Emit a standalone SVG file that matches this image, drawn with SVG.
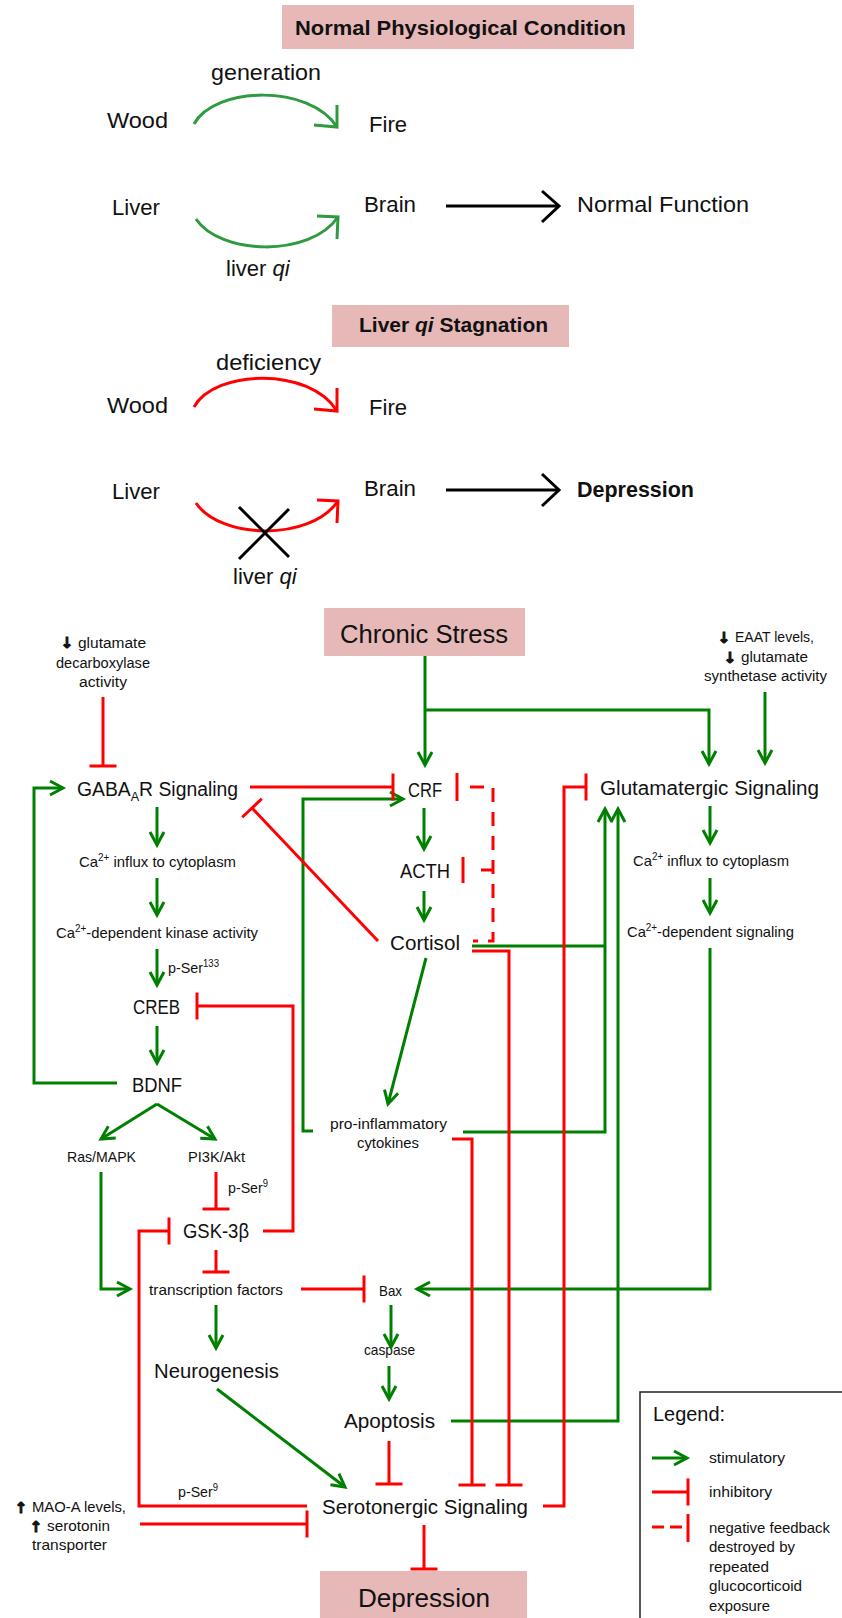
<svg xmlns="http://www.w3.org/2000/svg" width="842" height="1618" viewBox="0 0 842 1618">
<style>
text{font-family:"Liberation Sans",Arial,sans-serif;fill:#111;}
.t22{font-size:22px;}
.b20{font-size:21px;font-weight:bold;}
.big{font-size:20px;}
.sm{font-size:15px;}
.xs{font-size:14px;}
.huge{font-size:26px;}
.icon{font-family:"DejaVu Sans",sans-serif;font-weight:bold;font-size:15px;stroke:#111;stroke-width:1;}
.box{fill:#e6b8b7;}
.g{fill:none;stroke:#008000;stroke-width:3;}
.r{fill:none;stroke:#ff0000;stroke-width:3;}
.rd{fill:none;stroke:#ff0000;stroke-width:3;stroke-dasharray:14,10;}
.tg{fill:none;stroke:#2f9a3f;stroke-width:3;}
.k{fill:none;stroke:#000;stroke-width:3;}
.ga{marker-end:url(#arrG);}
.rt{marker-end:url(#teeR);}
</style>
<defs>
<marker id="arrG" markerUnits="userSpaceOnUse" viewBox="-16 -10 20 20" markerWidth="20" markerHeight="20" refX="0" refY="0" orient="auto" overflow="visible">
<path d="M-13,-7 L0,0 L-13,7" fill="none" stroke="#008000" stroke-width="3"/>
</marker>
<marker id="teeR" markerUnits="userSpaceOnUse" viewBox="-5 -15 10 30" markerWidth="10" markerHeight="30" refX="0" refY="0" orient="auto" overflow="visible">
<path d="M0,-13.5 V13.5" fill="none" stroke="#ff0000" stroke-width="3"/>
</marker>
</defs>

<!-- ===== Top: Normal Physiological Condition ===== -->
<g id="title-normal">
<rect class="box" x="282" y="5" width="352" height="44"/>
<text class="b20" x="295" y="35" textLength="331" lengthAdjust="spacingAndGlyphs">Normal Physiological Condition</text>
</g>
<g id="n-wood1"><text class="t22" x="107" y="128" textLength="61" lengthAdjust="spacingAndGlyphs">Wood</text></g>
<g id="n-fire1"><text class="t22" x="369" y="132" textLength="38" lengthAdjust="spacingAndGlyphs">Fire</text></g>
<g id="n-liver1"><text class="t22" x="112" y="215" textLength="48" lengthAdjust="spacingAndGlyphs">Liver</text></g>
<g id="n-brain1"><text class="t22" x="364" y="212" textLength="52" lengthAdjust="spacingAndGlyphs">Brain</text></g>
<g id="n-normalfunction"><text class="t22" x="577" y="212" textLength="172" lengthAdjust="spacingAndGlyphs">Normal Function</text></g>

<!-- ===== Top: Liver qi Stagnation ===== -->
<g id="title-stagnation">
<rect class="box" x="332" y="305" width="237" height="42"/>
<text class="b20" x="359" y="332">Liver <tspan font-style="italic">qi</tspan> Stagnation</text>
</g>
<g id="n-wood2"><text class="t22" x="107" y="413" textLength="61" lengthAdjust="spacingAndGlyphs">Wood</text></g>
<g id="n-fire2"><text class="t22" x="369" y="415" textLength="38" lengthAdjust="spacingAndGlyphs">Fire</text></g>
<g id="n-liver2"><text class="t22" x="112" y="499" textLength="48" lengthAdjust="spacingAndGlyphs">Liver</text></g>
<g id="n-brain2"><text class="t22" x="364" y="496" textLength="52" lengthAdjust="spacingAndGlyphs">Brain</text></g>
<g id="n-depression-top"><text class="t22" font-weight="bold" x="577" y="497" textLength="117" lengthAdjust="spacingAndGlyphs">Depression</text></g>

<!-- ===== Bottom nodes ===== -->
<g id="n-chronicstress">
<rect class="box" x="324" y="608" width="201" height="48"/>
<text class="huge" x="340" y="643" textLength="168" lengthAdjust="spacingAndGlyphs">Chronic Stress</text>
</g>
<g id="n-gad">
<text class="icon" x="67" y="648" text-anchor="middle">↓</text>
<text class="xs" x="78" y="648" textLength="68" lengthAdjust="spacingAndGlyphs">glutamate</text>
<text class="xs" x="56" y="668" textLength="94" lengthAdjust="spacingAndGlyphs">decarboxylase</text>
<text class="xs" x="79" y="687" textLength="48" lengthAdjust="spacingAndGlyphs">activity</text>
</g>
<g id="n-eaat">
<text class="icon" x="724" y="643" text-anchor="middle">↓</text>
<text class="xs" x="735" y="642" textLength="79" lengthAdjust="spacingAndGlyphs">EAAT levels,</text>
<text class="icon" x="730" y="663" text-anchor="middle">↓</text>
<text class="xs" x="741" y="662" textLength="67" lengthAdjust="spacingAndGlyphs">glutamate</text>
<text class="xs" x="704" y="681" textLength="123" lengthAdjust="spacingAndGlyphs">synthetase activity</text>
</g>
<g id="n-gabaar"><text class="big" x="77" y="796" textLength="161" lengthAdjust="spacingAndGlyphs">GABA<tspan font-size="13" dy="5">A</tspan><tspan dy="-5">R Signaling</tspan></text></g>
<g id="n-crf"><text class="big" x="408" y="797" textLength="34" lengthAdjust="spacingAndGlyphs">CRF</text></g>
<g id="n-glutamatergic"><text class="big" x="600" y="795" textLength="219" lengthAdjust="spacingAndGlyphs">Glutamatergic Signaling</text></g>
<g id="n-ca-influx-l"><text class="sm" x="79" y="867" textLength="157" lengthAdjust="spacingAndGlyphs">Ca<tspan font-size="10" dy="-6">2+</tspan><tspan dy="6"> influx to cytoplasm</tspan></text></g>
<g id="n-ca-influx-r"><text class="sm" x="633" y="866" textLength="156" lengthAdjust="spacingAndGlyphs">Ca<tspan font-size="10" dy="-6">2+</tspan><tspan dy="6"> influx to cytoplasm</tspan></text></g>
<g id="n-acth"><text class="big" x="400" y="878" textLength="50" lengthAdjust="spacingAndGlyphs">ACTH</text></g>
<g id="n-kinase"><text class="sm" x="56" y="938" textLength="202" lengthAdjust="spacingAndGlyphs">Ca<tspan font-size="10" dy="-6">2+</tspan><tspan dy="6">-dependent kinase activity</tspan></text></g>
<g id="n-cortisol"><text class="big" x="390" y="950" textLength="70" lengthAdjust="spacingAndGlyphs">Cortisol</text></g>
<g id="n-ca-signaling"><text class="sm" x="627" y="937" textLength="167" lengthAdjust="spacingAndGlyphs">Ca<tspan font-size="10" dy="-6">2+</tspan><tspan dy="6">-dependent signaling</tspan></text></g>
<g id="n-creb"><text class="big" x="133" y="1014" textLength="47" lengthAdjust="spacingAndGlyphs">CREB</text></g>
<g id="n-bdnf"><text class="big" x="132" y="1092" textLength="50" lengthAdjust="spacingAndGlyphs">BDNF</text></g>
<g id="n-cytokines">
<text class="sm" x="330" y="1129" textLength="117" lengthAdjust="spacingAndGlyphs">pro-inflammatory</text>
<text class="sm" x="357" y="1148" textLength="62" lengthAdjust="spacingAndGlyphs">cytokines</text>
</g>
<g id="n-ras"><text class="sm" x="67" y="1162" textLength="69" lengthAdjust="spacingAndGlyphs">Ras/MAPK</text></g>
<g id="n-pi3k"><text class="sm" x="188" y="1162" textLength="57" lengthAdjust="spacingAndGlyphs">PI3K/Akt</text></g>
<g id="n-gsk"><text class="big" x="183" y="1238" textLength="66" lengthAdjust="spacingAndGlyphs">GSK-3β</text></g>
<g id="n-tf"><text class="sm" x="149" y="1295" textLength="134" lengthAdjust="spacingAndGlyphs">transcription factors</text></g>
<g id="n-bax"><text class="sm" x="379" y="1296" textLength="23" lengthAdjust="spacingAndGlyphs">Bax</text></g>
<g id="n-caspase"><text class="sm" x="364" y="1355" textLength="51" lengthAdjust="spacingAndGlyphs">caspase</text></g>
<g id="n-neurogenesis"><text class="big" x="154" y="1378" textLength="125" lengthAdjust="spacingAndGlyphs">Neurogenesis</text></g>
<g id="n-apoptosis"><text class="big" x="344" y="1428" textLength="91" lengthAdjust="spacingAndGlyphs">Apoptosis</text></g>
<g id="n-serotonergic"><text class="big" x="322" y="1514" textLength="206" lengthAdjust="spacingAndGlyphs">Serotonergic Signaling</text></g>
<g id="n-maoa">
<text class="icon" x="21" y="1513" text-anchor="middle">↑</text>
<text class="sm" x="32" y="1512" textLength="94" lengthAdjust="spacingAndGlyphs">MAO-A levels,</text>
<text class="icon" x="36" y="1532" text-anchor="middle">↑</text>
<text class="sm" x="47" y="1531" textLength="63" lengthAdjust="spacingAndGlyphs">serotonin</text>
<text class="sm" x="32" y="1550" textLength="75" lengthAdjust="spacingAndGlyphs">transporter</text>
</g>
<g id="n-depression">
<rect class="box" x="320" y="1571" width="207" height="50"/>
<text class="huge" x="358" y="1607" textLength="132" lengthAdjust="spacingAndGlyphs">Depression</text>
</g>

<!-- ===== Legend ===== -->
<g id="legend">
<rect x="640" y="1392" width="215" height="240" fill="#fff" stroke="#222" stroke-width="1.5"/>
<text class="big" x="653" y="1421" textLength="72" lengthAdjust="spacingAndGlyphs">Legend:</text>
<path class="g ga" d="M652,1458 H687"/>
<text class="sm" x="709" y="1463" textLength="76" lengthAdjust="spacingAndGlyphs">stimulatory</text>
<path class="r rt" d="M652,1492 H688"/>
<text class="sm" x="709" y="1497" textLength="63" lengthAdjust="spacingAndGlyphs">inhibitory</text>
<path class="r" d="M652,1527 H688" stroke-dasharray="12,6"/>
<path class="r" d="M688,1514 V1542"/>
<text class="sm" x="709" y="1533" textLength="121" lengthAdjust="spacingAndGlyphs">negative feedback</text>
<text class="sm" x="709" y="1552" textLength="86" lengthAdjust="spacingAndGlyphs">destroyed by</text>
<text class="sm" x="709" y="1572" textLength="60" lengthAdjust="spacingAndGlyphs">repeated</text>
<text class="sm" x="709" y="1591" textLength="93" lengthAdjust="spacingAndGlyphs">glucocorticoid</text>
<text class="sm" x="709" y="1611" textLength="61" lengthAdjust="spacingAndGlyphs">exposure</text>
</g>

<!-- ===== Connectors ===== -->
<g id="connectors">
<!-- top section -->
<text class="t22" x="211" y="80" textLength="110" lengthAdjust="spacingAndGlyphs">generation</text>
<path class="tg" d="M194,124 C215,86 310,84 337,127"/>
<path class="tg" d="M337,105 L337,127 L314,125"/>
<path class="tg" d="M196,219 C220,255 310,258 338,217"/>
<path class="tg" d="M317,216 L338,217 L337,239"/>
<text class="t22" x="226" y="276">liver <tspan font-style="italic">qi</tspan></text>
<path class="k" d="M446,206 H559"/>
<path class="k" d="M542,191 L559,206 L542,222"/>

<text class="t22" x="216" y="370" textLength="105" lengthAdjust="spacingAndGlyphs">deficiency</text>
<path class="r" d="M194,407 C215,369 310,367 337,411"/>
<path class="r" d="M337,388 L337,411 L314,409"/>
<path class="r" d="M196,503 C220,539 310,542 338,501"/>
<path class="r" d="M317,500 L338,501 L337,523"/>
<path class="k" d="M239,507 L289,557 M289,509 L239,559"/>
<text class="t22" x="233" y="584">liver <tspan font-style="italic">qi</tspan></text>
<path class="k" d="M446,490 H559"/>
<path class="k" d="M542,474 L559,490 L542,506"/>

<!-- bottom: green stimulatory -->
<path class="g ga" d="M425,656 V765"/>
<path class="g ga" d="M425,710 H709 V764"/>
<path class="g ga" d="M765,692 V763"/>
<path class="g ga" d="M313,1131 H303 V799 H403"/>
<path class="g ga" d="M157,807 V845"/>
<path class="g ga" d="M157,878 V915"/>
<path class="g ga" d="M157,949 V985"/>
<path class="g ga" d="M157,1026 V1063"/>
<path class="g ga" d="M117,1083 H34 V788 H63"/>
<path class="g ga" d="M157,1104 L101,1139"/>
<path class="g ga" d="M157,1104 L215,1139"/>
<path class="g ga" d="M101,1172 V1289 H130"/>
<path class="g ga" d="M710,948 V1289 H417"/>
<path class="g ga" d="M216,1305 V1348"/>
<path class="g ga" d="M391,1305 V1347"/>
<path class="g ga" d="M389,1366 V1399"/>
<path class="g ga" d="M217,1389 L345,1487"/>
<path class="g" d="M472,946 H605"/>
<path class="g ga" d="M463,1132 H605 V809"/>
<path class="g ga" d="M451,1421 H618 V809"/>
<path class="g ga" d="M426,958 L388,1104"/>
<path class="g ga" d="M710,806 V843"/>
<path class="g ga" d="M710,878 V913"/>
<path class="g ga" d="M424,808 V849"/>
<path class="g ga" d="M424,891 V920"/>

<!-- bottom: red inhibitory -->
<path class="r rt" d="M103,697 V766"/>
<path class="r rt" d="M250,787 H393"/>
<path class="r rt" d="M378,941 L252,808"/>
<path class="r rt" d="M216,1172 V1209"/>
<path class="r rt" d="M263,1231 H293 V1006 H197"/>
<path class="r rt" d="M216,1250 V1272"/>
<path class="r rt" d="M307,1506 H139 V1231 H169"/>
<path class="r rt" d="M140,1524 H307"/>
<path class="r rt" d="M301,1289 H364"/>
<path class="r rt" d="M389,1441 V1484"/>
<path class="r rt" d="M424,1525 V1569"/>
<path class="r rt" d="M543,1506 H564 V787 H586"/>
<path class="r rt" d="M472,951 H509 V1485"/>
<path class="r rt" d="M452,1139 H472 V1485"/>

<!-- dashed negative feedback -->
<path class="rd" d="M470,787 H493 V941 H473"/>
<path class="r" d="M493,870 H481"/>
<path class="r" d="M457,773 V801"/>
<path class="r" d="M463,857 V883"/>

<!-- connector labels -->
<text class="sm" x="168" y="973" textLength="51" lengthAdjust="spacingAndGlyphs">p-Ser<tspan font-size="10" dy="-6">133</tspan></text>
<text class="sm" x="228" y="1193" textLength="40" lengthAdjust="spacingAndGlyphs">p-Ser<tspan font-size="10" dy="-6">9</tspan></text>
<text class="sm" x="178" y="1497" textLength="40" lengthAdjust="spacingAndGlyphs">p-Ser<tspan font-size="10" dy="-6">9</tspan></text>
</g>
</svg>
